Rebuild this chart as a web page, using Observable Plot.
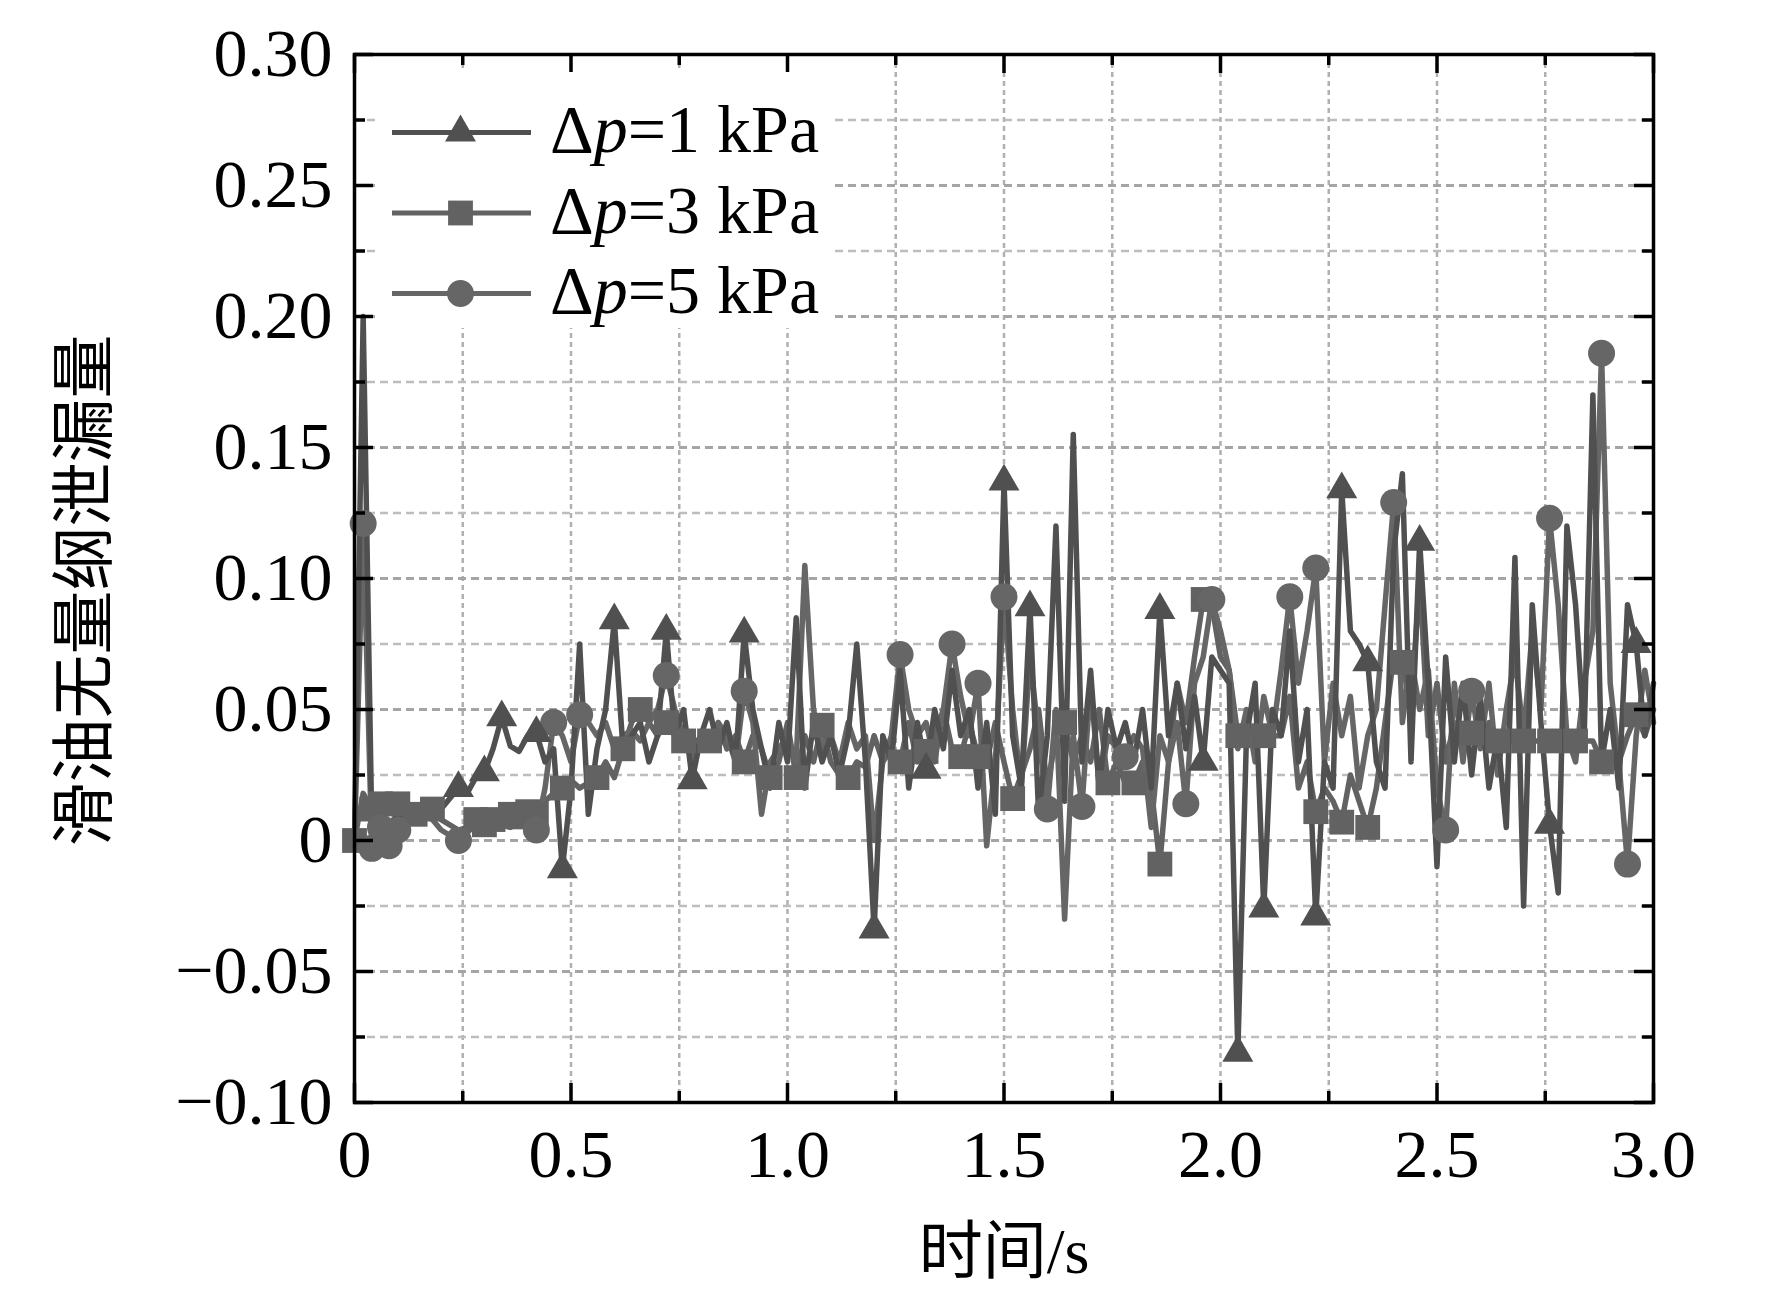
<!DOCTYPE html>
<html>
<head>
<meta charset="utf-8">
<script src="https://cdn.jsdelivr.net/npm/d3@7"></script>
<script src="https://cdn.jsdelivr.net/npm/@observablehq/plot@0.6"></script>
<style>
  html, body { margin: 0; padding: 0; background: white; }
  #wrap { position: relative; width: 1772px; height: 1308px; background: white; }
  #legend { position: absolute; left: 380px; top: 72px; width: 452px; height: 256px; background: white; }
  .ltext { position: absolute; font-family: 'Liberation Serif', 'Times New Roman', serif; font-size: 68px; line-height: 68px; color: black; white-space: nowrap; }
</style>
</head>
<body>
<div id="wrap"><div id="chart"></div><div id="legend"></div></div>
<script>
// ---------- data ----------
const seriesNames = ["Δp=1 kPa", "Δp=3 kPa", "Δp=5 kPa"];
const sampleStep = 0.02;   // samples at 0.02 s from 0 to 3 s

const v1 = [
  0, 0.20, 0.005, 0.008, 0.006, 0.01, 0.008, 0.012, 0.01, 0.014,
  0.012, 0.016, 0.02, 0.018, 0.024, 0.026, 0.035, 0.047, 0.036, 0.034,
  0.04, 0.041, 0.03, 0.035, -0.011, 0.02, 0.075, 0.01, 0.035, 0.05,
  0.084, 0.035, 0.04, 0.045, 0.03, 0.04, 0.08, 0.04, 0.05, 0.023,
  0.04, 0.05, 0.035, 0.045, 0.03, 0.079, 0.05, 0.035, 0.02, 0.045,
  0.03, 0.085, 0.02, 0.045, 0.03, 0.04, 0.025, 0.04, 0.075, 0.03,
  -0.034, 0.04, 0.03, 0.065, 0.02, 0.045, 0.027, 0.05, 0.035, 0.065,
  0.04, 0.05, 0.02, 0.045, 0.01, 0.137, 0.04, 0.02, 0.089, 0.01,
  0.04, 0.12, 0.015, 0.155, 0.03, 0.065, 0.02, 0.05, 0.035, 0.045,
  0.03, 0.05, 0.02, 0.088, 0.04, 0.06, 0.035, 0.055, 0.03, 0.07,
  0.065, 0.06, -0.081, 0.04, 0.06, -0.026, 0.05, 0.04, 0.08, 0.03,
  0.05, -0.029, 0.03, 0.02, 0.134, 0.08, 0.075, 0.068, 0.03, 0.02,
  0.11, 0.14, 0.03, 0.114, 0.06, -0.01, 0.07, 0.03, 0.06, 0.025,
  0.055, 0.02, 0.04, 0.005, 0.108, -0.025, 0.09, 0.045, 0.006, -0.02,
  0.12, 0.09, 0.04, 0.17, 0.03, 0.05, 0.02, 0.09, 0.075, 0.04, 0.06
];
const v2 = [
  0, 0.018, 0.012, 0.014, 0.012, 0.014, 0.008, 0.01, 0.01, 0.012,
  0.008, 0.006, 0.004, 0.005, 0.008, 0.006, 0.008, 0.008, 0.01, 0.009,
  0.011, 0.01, 0.015, 0.018, 0.02, 0.023, 0.02, 0.022, 0.024, 0.03,
  0.024, 0.035, 0.045, 0.05, 0.045, 0.04, 0.045, 0.04, 0.038, 0.035,
  0.04, 0.038, 0.045, 0.035, 0.04, 0.03, 0.04, 0.035, 0.024, 0.03,
  0.045, 0.024, 0.04, 0.03, 0.044, 0.03, 0.025, 0.024, 0.03, 0.028,
  0.04, 0.03, 0.035, 0.03, 0.045, 0.03, 0.034, 0.04, 0.05, 0.035,
  0.032, 0.045, 0.032, 0.03, 0.045, 0.03, 0.016, 0.025, 0.035, 0.05,
  0.02, 0.04, 0.045, 0.03, 0.04, 0.03, 0.05, 0.022, 0.03, 0.022,
  0.022, 0.03, 0.02, -0.009, 0.03, 0.06, 0.045, 0.07, 0.092, 0.09,
  0.07, 0.065, 0.04, 0.04, 0.04, 0.04, 0.04, 0.04, 0.055, 0.02,
  0.03, 0.011, 0.02, 0.015, 0.007, 0.025, 0.015, 0.005, 0.02, 0.045,
  0.07, 0.068, 0.05, 0.1, 0.04, 0.06, 0.03, 0.045, 0.038, 0.041,
  0.038, 0.045, 0.038, 0.038, 0.038, 0.038, 0.038, 0.038, 0.038, 0.038,
  0.038, 0.038, 0.038, 0.038, 0.03, 0.03, 0.03, 0.04, 0.048, 0.04, 0.05
];
const v3 = [
  0, 0.121, -0.003, 0.005, -0.002, 0.004, 0.006, 0.008, 0.01, 0.008,
  0.004, 0.002, 0.0, 0.003, 0.006, 0.004, 0.005, 0.006, 0.005, 0.008,
  0.006, 0.004, 0.02, 0.045, 0.04, 0.03, 0.048, 0.045, 0.04, 0.045,
  0.035, 0.04, 0.042, 0.038, 0.045, 0.05, 0.063, 0.05, 0.04, 0.03,
  0.04, 0.035, 0.045, 0.04, 0.03, 0.057, 0.045, 0.01, 0.03, 0.035,
  0.04, 0.03, 0.105, 0.05, 0.035, 0.04, 0.03, 0.045, 0.035, 0.04,
  0.0, 0.03, 0.04, 0.071, 0.05, 0.04, 0.045, 0.03, 0.05, 0.075,
  0.055, 0.04, 0.06, -0.002, 0.03, 0.093, 0.05, 0.02, 0.07, 0.04,
  0.012, 0.05, -0.03, 0.04, 0.013, 0.06, 0.02, 0.04, 0.035, 0.032,
  0.04, 0.035, 0.005, 0.04, 0.03, 0.045, 0.014, 0.06, 0.07, 0.092,
  0.08, 0.065, 0.035, 0.05, 0.03, 0.055, 0.04, 0.065, 0.093, 0.06,
  0.08, 0.104, 0.03, 0.06, 0.04, 0.055, 0.02, 0.04, 0.05, 0.09,
  0.129, 0.045, 0.07, 0.05, 0.065, 0.02, 0.004, 0.06, 0.03, 0.057,
  0.035, 0.06, 0.025, 0.05, 0.07, 0.04, 0.08, 0.05, 0.123, 0.09,
  0.04, 0.03, 0.06, 0.08, 0.186, 0.06, 0.03, -0.009, 0.04, 0.065, 0.045
];
// times (s) at which a marker is shown on each series
const mark1 = [0.24,0.30,0.34,0.42,0.48,0.60,0.72,0.78,0.90,1.20,1.32,1.50,1.56,1.86,1.96,2.04,2.10,2.22,2.28,2.34,2.46,2.76,2.96];
const mark2 = [0,0.04,0.06,0.10,0.14,0.18,0.28,0.30,0.32,0.36,0.38,0.40,0.42,0.48,0.56,0.62,0.66,0.72,0.76,0.82,0.90,0.96,1.02,1.08,1.14,1.26,1.32,1.40,1.44,1.52,1.64,1.74,1.80,1.86,1.96,2.04,2.10,2.22,2.28,2.34,2.42,2.58,2.64,2.70,2.76,2.82,2.88,2.96];
const mark3 = [0.02,0.04,0.06,0.08,0.10,0.24,0.42,0.46,0.52,0.72,0.90,1.26,1.38,1.44,1.50,1.60,1.68,1.78,1.92,1.98,2.16,2.22,2.40,2.52,2.58,2.76,2.88,2.94];

const xMajor = [0, 0.5, 1.0, 1.5, 2.0, 2.5, 3.0];
const xMinor = [0.25, 0.75, 1.25, 1.75, 2.25, 2.75];
const yMajor = [-0.10, -0.05, 0, 0.05, 0.10, 0.15, 0.20, 0.25, 0.30];
const yMinor = [-0.075, -0.025, 0.025, 0.075, 0.125, 0.175, 0.225, 0.275];

const xLabel = "时间/s";
const yLabel = "滑油无量纲泄漏量";

// ---------- styles / layout ----------
const colors = ["#505050", "#626262", "#666666"];
const symbols = ["triangle", "square", "circle"];
const radii = [11.5, 14, 13.5];
const W = 1772, H = 1308, mL = 354, mR = 119, mT = 54, mB = 206;
const plotW = W - mL - mR, plotH = H - mT - mB;
const serif = "'Liberation Serif', 'Times New Roman', 'Noto Sans CJK SC', serif";

function rows(vals, marks) {
  const mk = new Set(marks.map(t => Math.round(t / sampleStep)));
  return vals.map((v, i) => ({t: i * sampleStep, v, m: mk.has(i)}));
}
const data = [rows(v1, mark1), rows(v2, mark2), rows(v3, mark3)];

const xFmt = d => d === 0 ? "0" : d.toFixed(1);
const yFmt = d => Math.abs(d) < 1e-9 ? "0" : d3.format(".2f")(d);

const inner = (arr, lo, hi) => arr.filter(d => d > lo + 1e-9 && d < hi - 1e-9);
const xGrid = inner([...xMajor, ...xMinor], 0, 3);
const yGridMaj = inner(yMajor, -0.1, 0.3);
const yGridMin = yMinor;

const majLen = 19, minLen = 11;

const drawOrder = [1, 2, 0];
const seriesMarks = [];
for (const k of drawOrder) {
  seriesMarks.push(Plot.line(data[k], {x: "t", y: "v", stroke: colors[k], strokeWidth: 5.5, strokeLinejoin: "round"}));
}
for (const k of drawOrder) {
  seriesMarks.push(Plot.dot(data[k].filter(d => d.m), {x: "t", y: "v", symbol: symbols[k], r: radii[k], fill: colors[k], stroke: "none"}));
}

const chart = Plot.plot({
  width: W, height: H,
  marginLeft: mL, marginRight: mR, marginTop: mT, marginBottom: mB,
  style: {fontFamily: serif, fontSize: "68px", background: "white", color: "black", overflow: "visible"},
  x: {domain: [0, 3], ticks: xMajor, tickFormat: xFmt, tickSize: 0, tickPadding: 26, label: null},
  y: {domain: [-0.1, 0.3], ticks: yMajor, tickFormat: yFmt, tickSize: 0, tickPadding: 22, label: null},
  marks: [
    Plot.ruleX(xGrid, {x: d => d, stroke: "#b0b0b0", strokeWidth: 2.5, strokeDasharray: "5,4"}),
    Plot.ruleY(yGridMin, {y: d => d, stroke: "#bdbdbd", strokeWidth: 2.5, strokeDasharray: "8,5"}),
    Plot.ruleY(yGridMaj, {y: d => d, stroke: "#a5a5a5", strokeWidth: 3, strokeDasharray: "8,5"}),
    ...seriesMarks,
    // inward ticks on all four sides
    Plot.tickX(xMajor, {x: d => d, insetTop: plotH - majLen, stroke: "black", strokeWidth: 3.5}),
    Plot.tickX(xMinor, {x: d => d, insetTop: plotH - minLen, stroke: "black", strokeWidth: 3.5}),
    Plot.tickX(xMajor, {x: d => d, insetBottom: plotH - majLen, stroke: "black", strokeWidth: 3.5}),
    Plot.tickX(xMinor, {x: d => d, insetBottom: plotH - minLen, stroke: "black", strokeWidth: 3.5}),
    Plot.tickY(yMajor, {y: d => d, insetRight: plotW - majLen, stroke: "black", strokeWidth: 3.5}),
    Plot.tickY(yMinor, {y: d => d, insetRight: plotW - minLen, stroke: "black", strokeWidth: 3.5}),
    Plot.tickY(yMajor, {y: d => d, insetLeft: plotW - majLen, stroke: "black", strokeWidth: 3.5}),
    Plot.tickY(yMinor, {y: d => d, insetLeft: plotW - minLen, stroke: "black", strokeWidth: 3.5}),
    Plot.frame({stroke: "black", strokeWidth: 3.5}),
    Plot.text([yLabel], {frameAnchor: "left", textAnchor: "middle", rotate: -90, dx: -269, dy: 12, fontSize: 64, fontFamily: serif, fill: "black"}),
    Plot.text([xLabel], {frameAnchor: "bottom", textAnchor: "middle", dy: 170, fontSize: 64, fontFamily: serif, fill: "black"})
  ]
});
document.getElementById("chart").appendChild(chart);

// ---------- legend ----------
const legendRows = seriesNames.map((name, i) => ({name, i, cy: 60 + i * 80.5}));
const legendPlot = Plot.plot({
  width: 452, height: 256, margin: 0,
  x: {domain: [0, 452], range: [0, 452], axis: null},
  y: {domain: [0, 256], range: [0, 256], axis: null},
  style: {background: "transparent", overflow: "visible"},
  marks: [
    ...legendRows.map(r => Plot.ruleY([r], {y: "cy", x1: 12, x2: 151, stroke: colors[r.i], strokeWidth: 5})),
    ...legendRows.map(r => Plot.dot([r], {x: 80, y: "cy", symbol: symbols[r.i], r: radii[r.i], fill: colors[r.i], stroke: "none"}))
  ]
});
const legend = document.getElementById("legend");
legend.appendChild(legendPlot);
legendRows.forEach(r => {
  const s = document.createElement("div");
  s.className = "ltext";
  s.style.left = "170px";
  s.style.top = (r.cy - 37) + "px";
  const [pre, rest] = r.name.split("p");
  s.innerHTML = pre + "<i>p</i>" + rest;
  legend.appendChild(s);
});
</script>
</body>
</html>
